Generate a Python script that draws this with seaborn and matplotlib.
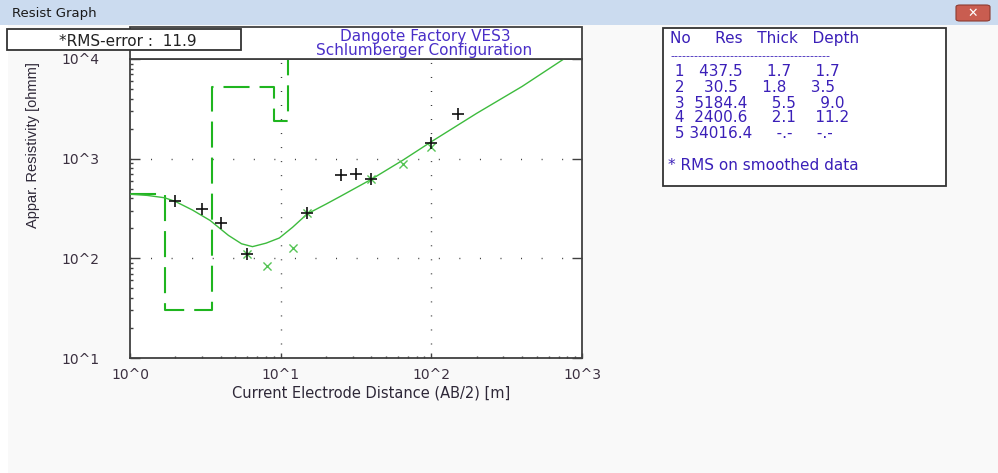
import matplotlib
matplotlib.use("Agg")
import numpy as np
import pandas as pd
import matplotlib.pyplot as plt
import seaborn as sns
from matplotlib.patches import Rectangle, FancyBboxPatch
from matplotlib.ticker import LogLocator, FuncFormatter, NullFormatter

# ---- field sounding (AB/2 in m, apparent resistivity in ohm.m) ----
obs_ab2 = [2.0, 3.0, 4.0, 6.0, 15.0, 25.0, 31.5, 40.0, 100.0, 150.0]
obs_rho = [372, 315, 228, 111, 288, 692, 707, 621, 1427, 2806]

# smoothed sounding
sm_ab2 = [6.0, 8.1, 12.1, 15.0, 40.0, 65.0, 100.0]
sm_rho = [111, 83, 126, 288, 621, 879, 1319]

# response of the layered model
fit_ab2 = [1.0, 1.3, 1.7, 2.0, 2.6, 3.4, 4.5, 5.5, 6.5, 8.0, 9.8, 12.0, 15.0,
           20.0, 25.0, 40.0, 65.0, 100.0, 200.0, 400.0, 780.0]
fit_rho = [440, 428, 405, 372, 305, 240, 170, 140, 131, 142, 160, 205, 279,
           350, 420, 621, 970, 1480, 2850, 5300, 10300]

# layered earth model
layer_no = [1, 2, 3, 4, 5]
layer_res = [437.5, 30.5, 5184.4, 2400.6, 34016.4]
layer_thick = [1.7, 1.8, 5.5, 2.1, None]
layer_depth = [1.7, 3.5, 9.0, 11.2, None]
rms_error = 11.9

title_lines = ["Dangote Factory VES3", "Schlumberger Configuration"]
x_label = "Current Electrode Distance (AB/2) [m]"
y_label = "Appar. Resistivity [ohmm]"

W, H = 998, 473


def fx(px):
    return px / W


def fy(py):
    return 1 - py / H


sns.set_theme(style="white")
plt.rcParams["font.family"] = ["DejaVu Sans"]

fig = plt.figure(figsize=(W / 100, H / 100), dpi=100)
fig.patch.set_facecolor("#f9f9f9")

# window chrome
fig.patches.append(Rectangle((0, fy(473)), fx(8), 1, transform=fig.transFigure,
                             facecolor="white", edgecolor="none", zorder=0.5))
fig.patches.append(Rectangle((0, fy(25)), 1, 25 / H, transform=fig.transFigure,
                             facecolor="#cbdbef", edgecolor="none", zorder=0.5))
fig.text(fx(12), fy(13), "Resist Graph", ha="left", va="center",
         fontsize=9.5, color="#1a1a1a")
fig.patches.append(FancyBboxPatch((fx(956), fy(21)), 34 / W, 16 / H,
                                  boxstyle="round,pad=0,rounding_size=0.004",
                                  transform=fig.transFigure, facecolor="#c95d50",
                                  edgecolor="#8c3b31", linewidth=0.8, zorder=1))
fig.text(fx(973), fy(13), "\u2715", ha="center", va="center", fontsize=9,
         fontweight="bold", color="white", zorder=3)

# plot frame
ax = fig.add_axes([fx(130), fy(358), 452 / W, 299 / H])
ax.set_facecolor("white")
ax.set_xscale("log")
ax.set_yscale("log")
ax.set_xlim(1, 1000)
ax.set_ylim(10, 10000)

# dotted decade grid
for gx in [10, 100]:
    ax.axvline(gx, color="#333333", lw=1.0, linestyle=(0, (0.7, 9.4)), zorder=1)
for gy in [100, 1000]:
    ax.axhline(gy, color="#333333", lw=1.0, linestyle=(0, (0.7, 14.1)), zorder=1)

# layered model as a step line
step_x = [1.0] + [d for d in layer_depth if d is not None]
ax.step(step_x, layer_res, where="post", color="#1fb51f", lw=1.5,
        linestyle=(0, (12.5, 4.8)), zorder=2)

# model response curve
sns.lineplot(x=fit_ab2, y=fit_rho, ax=ax, color="#3dbb3d", lw=1.0,
             sort=False, estimator=None, zorder=3)

# smoothed and observed points
sns.scatterplot(x=sm_ab2, y=sm_rho, ax=ax, marker="x", s=34, color="#55c455",
                linewidth=1.0, zorder=4)
sns.scatterplot(x=obs_ab2, y=obs_rho, ax=ax, marker="+", s=70, color="#111111",
                linewidth=1.2, zorder=5)

# axes styling
for side, sp in ax.spines.items():
    sp.set_color("#404040")
    sp.set_linewidth(1.3)

fmt = FuncFormatter(lambda v, pos: "10^%d" % int(round(np.log10(v))))
ax.xaxis.set_major_locator(LogLocator(base=10, numticks=10))
ax.yaxis.set_major_locator(LogLocator(base=10, numticks=10))
ax.xaxis.set_minor_locator(LogLocator(base=10, subs=np.arange(2, 10), numticks=20))
ax.yaxis.set_minor_locator(LogLocator(base=10, subs=np.arange(2, 10), numticks=20))
ax.xaxis.set_major_formatter(fmt)
ax.yaxis.set_major_formatter(fmt)
ax.xaxis.set_minor_formatter(NullFormatter())
ax.yaxis.set_minor_formatter(NullFormatter())

ax.tick_params(axis="x", which="major", direction="in", length=3.6, width=1.0,
               color="#404040", pad=7, labelsize=10, labelcolor="#3b3040",
               bottom=True, top=False)
ax.tick_params(axis="x", which="minor", direction="in", length=1.8, width=1.0,
               color="#404040", bottom=True, top=False)
ax.tick_params(axis="y", which="major", direction="in", length=7.2, width=1.0,
               color="#404040", pad=22, labelsize=10, labelcolor="#3b3040",
               left=True, right=True)
ax.tick_params(axis="y", which="minor", direction="in", length=2.2, width=1.0,
               color="#404040", left=True, right=False)

ax.set_xlabel(x_label, fontsize=10.5, color="#2e2838")
ax.xaxis.set_label_coords((371 - 130) / 452, -(393 - 358) / 299)
ax.xaxis.label.set_va("center")
ax.set_ylabel(y_label, fontsize=10.5, color="#2e2838",
              family=["Liberation Sans"])
ax.yaxis.set_label_coords((33 - 130) / 452, (358 - 145) / 299)
ax.yaxis.label.set_va("center")

# title box above the plot
fig.patches.append(Rectangle((fx(130), fy(59)), 452 / W, 32 / H,
                             transform=fig.transFigure, facecolor="white",
                             edgecolor="#404040", linewidth=1.3, zorder=1))
fig.text(fx(425), fy(37), title_lines[0], ha="center", va="center",
         fontsize=11, color="#4a2fc8", zorder=3)
fig.text(fx(424), fy(51), title_lines[1], ha="center", va="center",
         fontsize=11, color="#4a2fc8", zorder=3)

# RMS box
fig.patches.append(Rectangle((fx(7), fy(50)), 234 / W, 21 / H,
                             transform=fig.transFigure, facecolor="white",
                             edgecolor="#333333", linewidth=1.3, zorder=2))
fig.text(fx(128), fy(41), "*RMS-error :  %.1f" % rms_error, ha="center",
         va="center", fontsize=11, color="#222222", zorder=3)

# layer parameter table
fig.patches.append(Rectangle((fx(663), fy(186)), 283 / W, 158 / H,
                             transform=fig.transFigure, facecolor="white",
                             edgecolor="#333333", linewidth=1.3, zorder=1))
tcol = "#3a1fb8"
fig.text(fx(670), fy(39), "No     Res   Thick   Depth", ha="left", va="center",
         fontsize=11, color=tcol, zorder=3)
fig.text(fx(670), fy(56), "-" * 40, ha="left", va="center",
         fontsize=8, color=tcol, zorder=3)


def cell(v):
    return "-.-" if v is None else "%.1f" % v


row_y = [71, 87, 103, 118, 134]
for n, r, t, d, yy in zip(layer_no, layer_res, layer_thick, layer_depth, row_y):
    line = "%2d%8.1f%8s%8s" % (n, r, cell(t), cell(d))
    fig.text(fx(670), fy(yy), line, ha="left", va="center", fontsize=11,
             color=tcol, zorder=3)
fig.text(fx(668), fy(165), "* RMS on smoothed data", ha="left", va="center",
         fontsize=11, color=tcol, zorder=3)

fig.savefig("out.png", dpi=100, facecolor=fig.get_facecolor())
